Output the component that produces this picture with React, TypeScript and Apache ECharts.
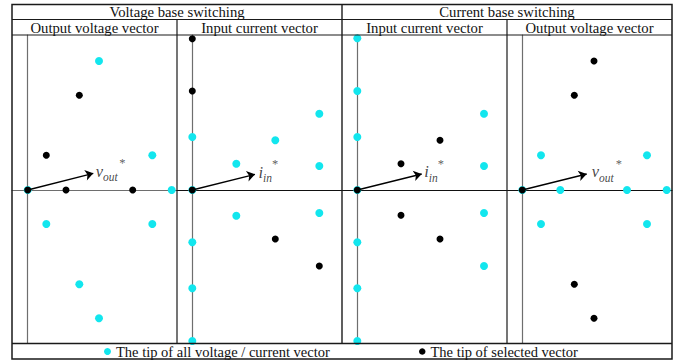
import React, { useEffect, useRef } from 'react';
import * as echarts from 'echarts';

const headers = ['Voltage base switching', 'Current base switching'];
const panelTitles = ['Output voltage vector', 'Input current vector', 'Input current vector', 'Output voltage vector'];
const legendAllName = 'The tip of all voltage / current vector';
const legendSelName = 'The tip of selected vector';

// Voltage base switching – output voltage vectors
const p1All = [[0, 0], [144, 0], [124.6, 34.7], [71.3, 129], [18.6, -34], [124.6, -34], [51.6, -94.3], [71.3, -128.3]];
const p1Sel = [[0, 0], [38.3, 0], [105, 0], [18.6, 34.7], [51.6, 94.7]];
// Voltage base switching – input current vectors
const p2All = [[0, 0], [0, 53], [83, 49.7], [127, 76.3], [44, 26.3], [127, 24], [44, -25.7], [127, -23], [0, -52.3], [0, -98.3], [0, -151]];
const p2Sel = [[0, 151.3], [0, 99], [0, 0], [83, -49], [127, -76]];
// Current base switching – input current vectors
const p3All = [[0, 0], [0, 151.7], [0, 99], [0, 53], [126.7, 76.3], [126.7, 24], [126.7, -23], [126.7, -76], [0, -52.3], [0, -98.3], [0, -151]];
const p3Sel = [[0, 0], [82.7, 49.7], [43.7, 26.3], [43.7, -25.3], [82.7, -49]];
// Current base switching – output voltage vectors
const p4All = [[0, 0], [18.7, 34.7], [124.7, 34.7], [38, 0], [104.7, 0], [144.4, 0], [18.7, -34], [124.7, -34]];
const p4Sel = [[0, 0], [71.7, 129], [52, 94.7], [52, -94.3], [71.7, -128.3]];

// reference vectors (arrows)
const refVectors = [[65.6, 16.7], [62.7, 15.7], [64.4, 16], [64.4, 16]];
const refMain = ['v', 'i', 'i', 'v'];
const refSub = ['out', 'in', 'in', 'out'];

const allSets = [p1All, p2All, p3All, p4All];
const selSets = [p1Sel, p2Sel, p3Sel, p4Sel];

const FONT = 'Liberation Serif';
const CYAN = '#12e6ee';
const BORDER = '#1a1a1a';
const GRAY = '#6e6e6e';

const colX = [12, 177, 342, 507];
const colW = 165;
const gridTop = 35;
const gridBottom = 343.5;
const originX = [15.7, 15.3, 15.3, 15.3];
const originY = 190;
const mainDist = [2.5, 3.5, 2.5, 5];
const starDx = [26, 17, 16, 29];

export default function App() {
  const ref = useRef<HTMLDivElement>(null);
  useEffect(() => {
    if (!ref.current) return;
    const chart = echarts.init(ref.current, null, { renderer: 'svg' });

    const grids: any[] = [];
    const xAxes: any[] = [];
    const yAxes: any[] = [];
    const series: any[] = [];

    for (let i = 0; i < 4; i++) {
      grids.push({ left: colX[i], top: gridTop, width: colW, height: gridBottom - gridTop });
      xAxes.push({
        gridIndex: i, type: 'value',
        min: -originX[i], max: colW - originX[i],
        axisLine: { show: true, onZero: true, lineStyle: { color: i === 0 ? GRAY : '#111', width: 1.2 } },
        axisTick: { show: false }, axisLabel: { show: false }, splitLine: { show: false },
      });
      yAxes.push({
        gridIndex: i, type: 'value',
        min: -(gridBottom - originY), max: originY - gridTop,
        axisLine: { show: true, onZero: true, lineStyle: { color: GRAY, width: 1.2 } },
        axisTick: { show: false }, axisLabel: { show: false }, splitLine: { show: false },
      });
      series.push({
        name: legendAllName, type: 'scatter', xAxisIndex: i, yAxisIndex: i,
        data: allSets[i], symbol: 'circle', symbolSize: 8, clip: false,
        itemStyle: { color: CYAN, opacity: 1 }, z: 3, silent: true,
      });
      series.push({
        name: legendSelName, type: 'scatter', xAxisIndex: i, yAxisIndex: i,
        data: selSets[i], symbol: 'circle', symbolSize: 7, clip: false,
        itemStyle: { color: '#000', opacity: 1 }, z: 4, silent: true,
      });
      series.push({
        type: 'lines', coordinateSystem: 'cartesian2d', xAxisIndex: i, yAxisIndex: i,
        symbol: ['none', 'arrow'], symbolSize: 8, silent: true, z: 5,
        lineStyle: { color: '#000', width: 1.3, opacity: 1, curveness: 0 },
        data: [{ coords: [[0, 0], refVectors[i]] }],
      });
      // reference vector name with subscript
      series.push({
        type: 'scatter', xAxisIndex: i, yAxisIndex: i, silent: true, z: 6,
        symbolSize: 0, data: [refVectors[i]], clip: false,
        label: {
          show: true, position: 'right', distance: mainDist[i], offset: [0, -2.3],
          color: '#111', textBorderWidth: 0,
          formatter: `{m|${refMain[i]}}{s|${refSub[i]}}`,
          rich: {
            m: { fontFamily: FONT, fontStyle: 'italic', fontSize: 16.5, color: '#111', lineHeight: 24, verticalAlign: 'middle' },
            s: { fontFamily: FONT, fontStyle: 'italic', fontSize: 11.5, color: '#111', lineHeight: 18, verticalAlign: 'bottom' },
          },
        },
      });
      // superscript star
      series.push({
        type: 'scatter', xAxisIndex: i, yAxisIndex: i, silent: true, z: 6,
        symbolSize: 0, data: [refVectors[i]], clip: false,
        label: {
          show: true, position: 'right', distance: 0, offset: [starDx[i], -10],
          formatter: '*', fontFamily: FONT, fontSize: 12.5, color: '#333', textBorderWidth: 0,
        },
      });
    }

    const line = (x1: number, y1: number, x2: number, y2: number, w = 1.2) => ({
      type: 'line', silent: true, z: 10,
      shape: { x1, y1, x2, y2 },
      style: { stroke: BORDER, lineWidth: w },
    });
    const text = (x: number, y: number, t: string) => ({
      type: 'text', silent: true, z: 10, x, y,
      style: { text: t, fontFamily: FONT, fontSize: 14.7, fill: '#111', align: 'center', verticalAlign: 'middle' },
    });

    const L = 12, R = 672, T = 4.5, B = 359;
    const graphic: any[] = [
      { type: 'rect', silent: true, z: 10, shape: { x: L, y: T, width: R - L, height: B - T }, style: { fill: 'none', stroke: BORDER, lineWidth: 1.5 } },
      line(L, 19.5, R, 19.5),
      line(L, gridTop, R, gridTop),
      line(L, gridBottom, R, gridBottom, 1.4),
      line(342, T, 342, gridBottom, 1.4),
      line(177, 19.5, 177, gridBottom),
      line(507, 19.5, 507, gridBottom),
      text(177, 12, headers[0]),
      text(507, 12, headers[1]),
    ];
    for (let i = 0; i < 4; i++) graphic.push(text(colX[i] + colW / 2, 27.5, panelTitles[i]));

    const legendText = { fontFamily: FONT, fontSize: 14.5, color: '#111' };
    chart.setOption({
      animation: false,
      backgroundColor: '#fff',
      textStyle: { fontFamily: FONT },
      grid: grids,
      xAxis: xAxes,
      yAxis: yAxes,
      legend: [
        { data: [{ name: legendAllName, icon: 'circle' }], left: 104, top: 344, padding: 0, itemWidth: 7, itemHeight: 7, textStyle: legendText, selectedMode: false },
        { data: [{ name: legendSelName, icon: 'circle' }], left: 419, top: 344, padding: 0, itemWidth: 6.5, itemHeight: 6.5, textStyle: legendText, selectedMode: false },
      ],
      series,
      graphic,
    });
    return () => chart.dispose();
  }, []);
  return <div ref={ref} style={{ position: 'fixed', left: 0, top: 0, width: 681, height: 360, background: '#fff' }} />;
}
